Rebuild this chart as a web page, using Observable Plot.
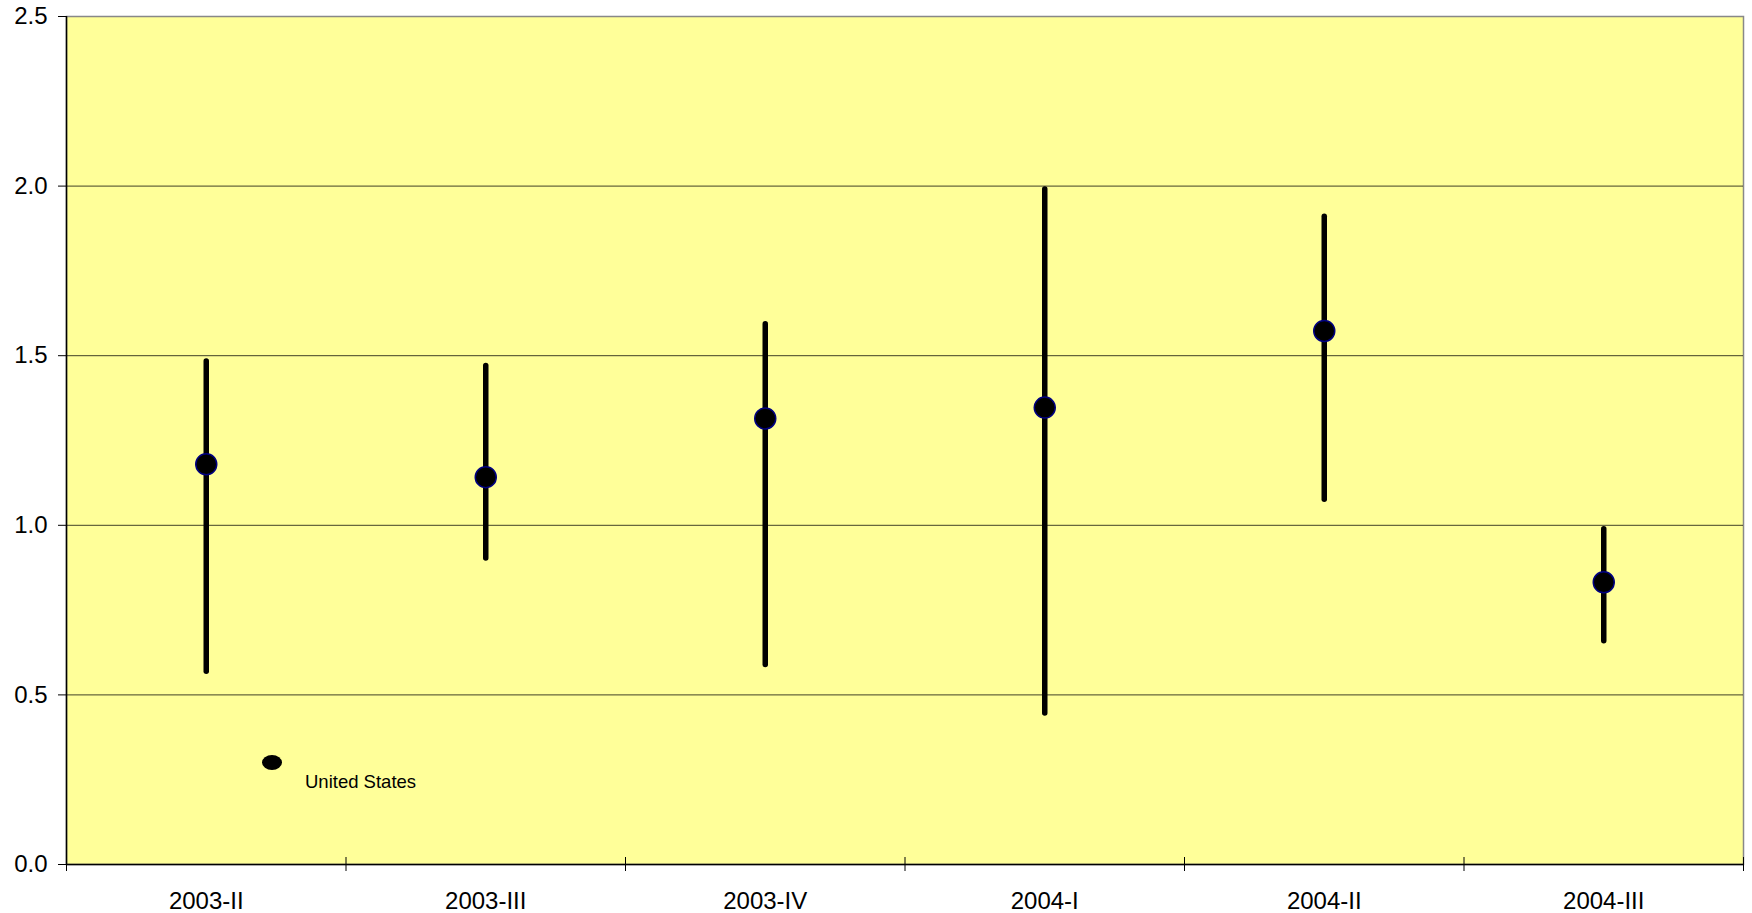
<!DOCTYPE html>
<html>
<head>
<meta charset="utf-8">
<script src="https://cdn.jsdelivr.net/npm/d3@7"></script>
<script src="https://cdn.jsdelivr.net/npm/@observablehq/plot@0.6"></script>
<style>
  html, body { margin: 0; padding: 0; background: #fff; }
  #wrap { position: relative; width: 1752px; height: 913px; font-family: Arial, "Liberation Sans", sans-serif; }
  #legend-dot { position: absolute; left: 262px; top: 755px; width: 20px; height: 15px; border-radius: 50%; background: #000; }
  #legend-text { position: absolute; left: 305px; top: 771px; font-size: 18.5px; color: #000; line-height: 22px; }
</style>
</head>
<body>
<div id="wrap">
  <div id="chart"></div>
  <div id="legend-dot"></div>
  <div id="legend-text">United States</div>
</div>
<script>
const categories = ["2003-II", "2003-III", "2003-IV", "2004-I", "2004-II", "2004-III"];
const mid  = [1.18, 1.142, 1.315, 1.347, 1.573, 0.832];
const high = [1.483, 1.47, 1.593, 1.99, 1.91, 0.988];
const low  = [0.568, 0.902, 0.588, 0.445, 1.075, 0.658];
const yTicks = [0, 0.5, 1.0, 1.5, 2.0, 2.5];
const gridValues = [0.5, 1.0, 1.5, 2.0];

const rows = categories.map((c, i) => ({cat: c, pos: i + 0.5, mid: mid[i], high: high[i], low: low[i]}));
const boundaries = d3.range(categories.length + 1);

const chart = Plot.plot({
  width: 1752,
  height: 913,
  marginLeft: 66,
  marginRight: 9,
  marginTop: 16,
  marginBottom: 49,
  style: {fontFamily: 'Arial, "Liberation Sans", sans-serif', fontSize: "24px", background: "#fff", color: "#000"},
  x: {domain: [0, categories.length], axis: null, label: null},
  y: {domain: [0, 2.5], axis: null, label: null},
  marks: [
    Plot.frame({fill: "#FFFF99", stroke: "#888", strokeWidth: 1.5}),
    Plot.ruleY(gridValues, {stroke: "#000", strokeOpacity: 0.75, strokeWidth: 1}),
    Plot.ruleY([0], {stroke: "#000", strokeWidth: 1.5}),
    Plot.ruleX([0], {stroke: "#000", strokeWidth: 1.5}),
    Plot.axisY(yTicks, {tickSize: 8, tickPadding: 11, tickFormat: d3.format(".1f"), stroke: "#000", fontSize: 24, label: null}),
    Plot.axisX(boundaries, {tickSize: 14, dy: -7, tickFormat: () => "", stroke: "#000", label: null}),
    Plot.axisX(rows.map(d => d.pos), {tickSize: 0, tickPadding: 27, tickFormat: (d) => categories[Math.round(d - 0.5)], fontSize: 24, label: null}),
    Plot.ruleX(rows, {x: "pos", y1: "low", y2: "high", stroke: "#000", strokeWidth: 5.5, strokeLinecap: "round"}),
    Plot.dot(rows, {x: "pos", y: "mid", r: 10.5, fill: "#000", stroke: "#000080", strokeWidth: 1.5})
  ]
});
document.getElementById("chart").appendChild(chart);
</script>
</body>
</html>
